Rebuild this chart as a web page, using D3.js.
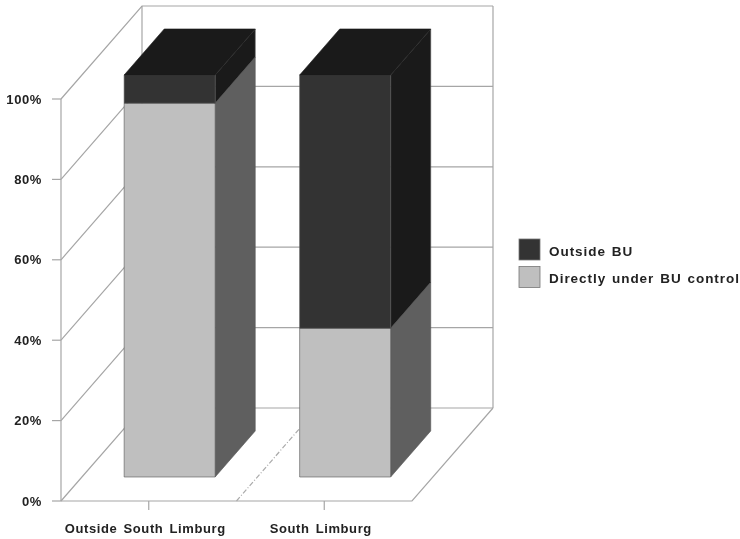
<!DOCTYPE html>
<html>
<head>
<meta charset="utf-8">
<script src="https://cdn.jsdelivr.net/npm/d3@7/dist/d3.min.js"></script>
<style>
  html, body { margin: 0; padding: 0; background: #fff; }
  svg { display: block; filter: blur(0.45px); }
  text { font-family: "Liberation Sans", sans-serif; font-weight: bold; fill: #222; }
</style>
</head>
<body>
<div id="chart"></div>
<script>
var categories = ["Outside South Limburg", "South Limburg"];
var seriesNames = ["Directly under BU control", "Outside BU"];
var directlyUnder = [93, 37];
var outsideBU = [7, 63];
var yTicks = [0, 20, 40, 60, 80, 100];
var legendNames = ["Outside BU", "Directly under BU control"];

function init() {

    var width = 740;
    var height = 539;

    var front = "#bfbfbf", frontDark = "#333333";
    var side = "#5f5f5f", sideDark = "#1a1a1a";
    var topColor = "#1a1a1a";
    var wall = "#a6a6a6";

    // Floor depth, in pixels from the front edge to the back wall
    var depthX = 81;
    var depthY = -93;

    var x = d3.scaleBand()
        .domain(categories)
        .range([61, 412]);

    var y = d3.scaleLinear()
        .domain([0, 100])
        .range([501, 99]);

    // Bars take this part of the band and of the floor depth
    var barW = 91;
    var barOffset = (x.bandwidth() - barW) / 2;
    var depth0 = 0.258;
    var depth1 = 0.753;

    // Oblique projection: px position on the front plane, value, depth 0..1
    function pt(px, v, t) {
        return [px + depthX * t, y(v) + depthY * t];
    }

    var line = d3.line();

    var svg = d3.select("#chart")
        .append("svg")
        .attr("width", width)
        .attr("height", height);

    var left = x.range()[0], right = x.range()[1];

    // Walls and floor
    var walls = svg.append("g")
        .attr("fill", "none")
        .attr("stroke", wall)
        .attr("stroke-width", 1.2);

    yTicks.forEach(function (d) {
        walls.append("path").attr("d", line([pt(left, d, 0), pt(left, d, 1), pt(right, d, 1)]));
    });
    walls.append("path").attr("d", line([pt(left, 0, 0), pt(left, 100, 0)]));
    walls.append("path").attr("d", line([pt(left, 0, 1), pt(left, 100, 1)]));
    walls.append("path").attr("d", line([pt(right, 0, 1), pt(right, 100, 1)]));
    walls.append("path").attr("d", line([pt(left, 0, 0), pt(right, 0, 0), pt(right, 0, 1)]));

    // Dashed divider on the floor between the two categories
    walls.append("path")
        .attr("d", line([pt(x(categories[1]), 0, 0), pt(x(categories[1]), 0, 1)]))
        .attr("stroke", "#aaa")
        .attr("stroke-dasharray", "5,2,1,2");

    // Y axis ticks and labels
    yTicks.forEach(function (d) {
        walls.append("path").attr("d", line([[left - 9, y(d)], [left, y(d)]]));
        svg.append("text")
            .attr("x", 42)
            .attr("y", y(d) + 4.5)
            .attr("text-anchor", "end")
            .attr("font-size", 13)
            .attr("letter-spacing", 0.6)
            .text(d + "%");
    });

    // X axis ticks and labels
    categories.forEach(function (c) {
        var cx = x(c) + x.bandwidth() / 2;
        walls.append("path").attr("d", line([[cx, y(0)], [cx, y(0) + 9]]));
        svg.append("text")
            .attr("x", cx - 3.5)
            .attr("y", 532.5)
            .attr("text-anchor", "middle")
            .attr("font-size", 13)
            .attr("letter-spacing", 0.6)
            .attr("word-spacing", 2)
            .text(c);
    });

    // Stacked 3D bars
    var bars = svg.append("g")
        .attr("stroke", "#555")
        .attr("stroke-width", 0.6)
        .attr("stroke-linejoin", "round");

    categories.forEach(function (c, i) {
        var x0 = x(c) + barOffset;
        var x1 = x0 + barW;
        var stack = [
            { from: 0, to: directlyUnder[i], f: front, s: side },
            { from: directlyUnder[i], to: directlyUnder[i] + outsideBU[i], f: frontDark, s: sideDark }
        ];

        stack.forEach(function (p) {
            bars.append("path")
                .attr("fill", p.s)
                .attr("d", line([pt(x1, p.from, depth0), pt(x1, p.from, depth1), pt(x1, p.to, depth1), pt(x1, p.to, depth0)]) + "Z");
            bars.append("path")
                .attr("fill", p.f)
                .attr("d", line([pt(x0, p.from, depth0), pt(x1, p.from, depth0), pt(x1, p.to, depth0), pt(x0, p.to, depth0)]) + "Z");
        });

        bars.append("path")
            .attr("fill", topColor)
            .attr("stroke", topColor)
            .attr("d", line([pt(x0, 100, depth0), pt(x1, 100, depth0), pt(x1, 100, depth1), pt(x0, 100, depth1)]) + "Z");
    });

    // Legend
    var legendColor = d3.scaleOrdinal()
        .domain(seriesNames)
        .range([front, frontDark]);

    var legend = svg.selectAll(".legend")
        .data(legendNames)
        .enter()
        .append("g")
        .attr("class", "legend")
        .attr("transform", function (d, i) {
            return "translate(519," + (239 + i * 27.5) + ")";
        });

    legend.append("rect")
        .attr("width", 21)
        .attr("height", 21)
        .attr("fill", function (d) { return legendColor(d); })
        .attr("stroke", "#777")
        .attr("stroke-width", 0.8);

    legend.append("text")
        .attr("x", 30)
        .attr("y", 16.5)
        .attr("font-size", 13.5)
        .attr("letter-spacing", 0.95)
        .attr("word-spacing", 1.2)
        .text(function (d) { return d; });
}

window.onload = init;
</script>
</body>
</html>
